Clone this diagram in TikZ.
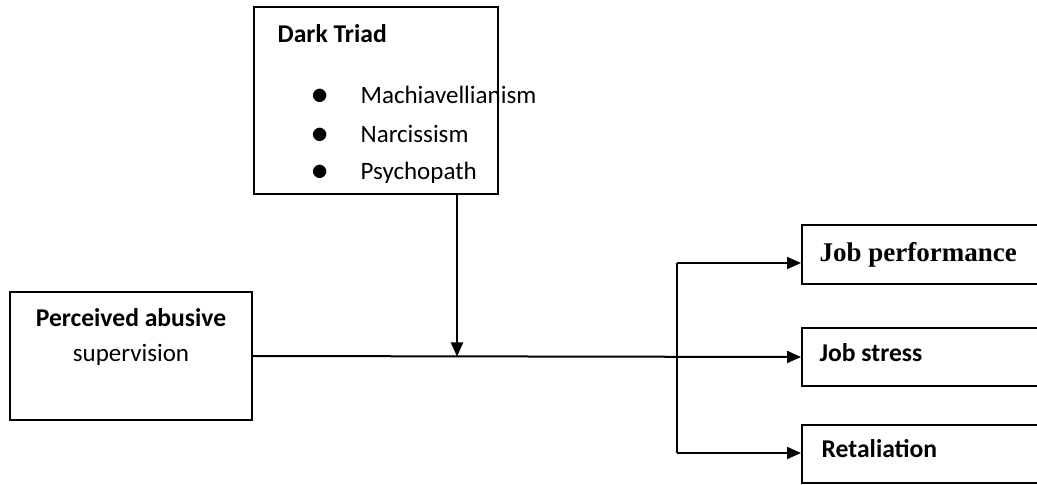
\documentclass[tikz,border=0pt]{standalone}
\usepackage{fontspec}
\setmainfont{Carlito}
\newfontfamily\timesfont{Liberation Serif}
\usetikzlibrary{arrows.meta}
\begin{document}
\begin{tikzpicture}[x=.5pt,y=-.5pt,line width=1pt,font=\fontsize{12.5}{15}\selectfont,
  box/.style={draw,inner sep=0pt},
  bld/.style={font=\fontsize{12.8}{15}\selectfont\bfseries},
  dot/.style={anchor=base,font=\fontsize{16}{16}\selectfont},
  arr/.style={-{Triangle[length=7pt,width=6pt]}}]
\useasboundingbox (0,0) rectangle (1037,485);
\node[box,minimum width=122pt,minimum height=93.5pt] (dt) at (376,100.5) {};
\node[box,minimum width=121pt,minimum height=64pt] (pas) at (131,356) {};
\node[box,minimum width=121.5pt,minimum height=29.5pt] (jp) at (923.5,254.5) {};
\node[box,minimum width=121.5pt,minimum height=29pt] (js) at (923.5,357) {};
\node[box,minimum width=121.5pt,minimum height=29pt] (ret) at (923.5,454) {};
\node[anchor=base west,bld] (dtt) at (270,43) {Dark Triad};
\node[dot] (b1) at (320,105) {$\bullet$};
\node[dot] (b2) at (320,144) {$\bullet$};
\node[dot] (b3) at (320,181) {$\bullet$};
\node[anchor=base west] (mach) at (353,104) {Machiavellianism};
\node[anchor=base west] (narc) at (353,143) {Narcissism};
\node[anchor=base west] (psy) at (353,180) {Psychopath};
\node[anchor=base,bld] (pa1) at (131,327) {Perceived abusive};
\node[anchor=base] (pa2) at (131,362) {supervision};
\node[anchor=base west,font=\timesfont\bfseries\fontsize{13.5}{16}\selectfont] (jpt) at (812,262) {Job performance};
\node[anchor=base west,bld] (jst) at (812,362) {Job stress};
\node[anchor=base west,bld] (rett) at (814,458) {Retaliation};
\coordinate (j) at (457,356.5);
\coordinate (bt) at (677,263);
\coordinate (bb) at (677,453);
\draw[arr] (pas.east) -- (js.west);
\draw[arr] (dt.south -| j) -- (j);
\draw (bt) -- (bb);
\draw[arr] (bt) -- (jp.west |- bt);
\draw[arr] (bb) -- (ret.west |- bb);
\end{tikzpicture}
\end{document}
